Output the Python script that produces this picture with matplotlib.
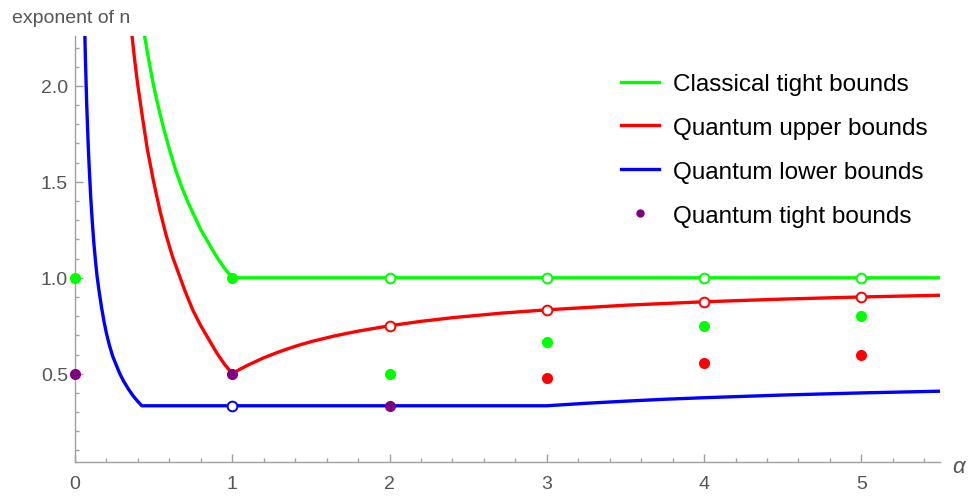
import matplotlib
matplotlib.use("Agg")
import matplotlib.pyplot as plt
from matplotlib.lines import Line2D
from matplotlib.ticker import MultipleLocator

plt.rcParams['font.family'] = ['Liberation Sans', 'DejaVu Sans']

# classical tight bounds (green curve)
green_a = [0.42, 0.44, 0.47, 0.50, 0.53, 0.56, 0.60, 0.64, 0.68, 0.72, 0.76, 0.80,
           0.85, 0.90, 0.95, 1.00, 5.50]
green_y = [2.38, 2.27, 2.13, 2.00, 1.89, 1.79, 1.67, 1.56, 1.47, 1.39, 1.32, 1.25,
           1.18, 1.11, 1.05, 1.00, 1.00]

# quantum upper bounds (red curve)
red_a = [0.34, 0.36, 0.38, 0.40, 0.43, 0.46, 0.50, 0.54, 0.58, 0.62, 0.66, 0.70,
         0.75, 0.80, 0.85, 0.90, 0.95, 1.00,
         1.05, 1.10, 1.20, 1.30, 1.40, 1.50, 1.65, 1.80, 2.00, 2.20, 2.40, 2.70,
         3.00, 3.50, 4.00, 4.50, 5.00, 5.50]
red_y = [2.44, 2.28, 2.13, 2.00, 1.83, 1.67, 1.50, 1.35, 1.22, 1.11, 1.02, 0.93,
         0.83, 0.75, 0.68, 0.61, 0.55, 0.50,
         0.524, 0.545, 0.583, 0.615, 0.643, 0.667, 0.697, 0.722, 0.75, 0.773, 0.792, 0.815,
         0.833, 0.857, 0.875, 0.889, 0.90, 0.909]

# quantum lower bounds (blue curve)
blue_a = [0.060, 0.065, 0.070, 0.075, 0.080, 0.085, 0.090, 0.100, 0.110, 0.120, 0.130,
          0.140, 0.155, 0.170, 0.185, 0.200, 0.220, 0.240, 0.260, 0.285, 0.310, 0.340,
          0.370, 0.400, 0.425, 3.00, 3.25, 3.50, 3.75, 4.00, 4.50, 5.00, 5.50]
blue_y = [2.37, 2.18, 2.03, 1.89, 1.78, 1.67, 1.58, 1.42, 1.29, 1.18, 1.09,
          1.01, 0.92, 0.84, 0.77, 0.71, 0.645, 0.59, 0.55, 0.50, 0.46, 0.42,
          0.384, 0.355, 0.333, 0.333, 0.346, 0.357, 0.367, 0.375, 0.389, 0.40, 0.409]

# filled points
green_pt_a = [0, 1, 2, 3, 4, 5]
green_pt_y = [1.0, 1.0, 0.5, 0.667, 0.75, 0.8]
red_pt_a = [3, 4, 5]
red_pt_y = [0.48, 0.555, 0.6]
purple_pt_a = [0, 1, 2]
purple_pt_y = [0.5, 0.5, 0.333]

# open points
green_open_a = [2, 3, 4, 5]
green_open_y = [1.0, 1.0, 1.0, 1.0]
red_open_a = [2, 3, 4, 5]
red_open_y = [0.75, 0.833, 0.875, 0.9]
blue_open_a = [1]
blue_open_y = [0.333]

legend_labels = ["Classical tight bounds", "Quantum upper bounds",
                 "Quantum lower bounds", "Quantum tight bounds"]

GREEN = "#00ff00"
RED = "#ff0000"
BLUE = "#0000ff"
PURPLE = "#800080"
AXIS = "#a0a0a0"
TXT = "#555555"

fig = plt.figure(figsize=(9.71, 5.02), dpi=100)
ax = fig.add_axes([75 / 971, 39 / 502, 865 / 971, 426 / 502])

lw = 2.4
ax.plot(green_a, green_y, color=GREEN, lw=lw, zorder=2)
ax.plot(red_a, red_y, color=RED, lw=lw, zorder=2)
ax.plot(blue_a, blue_y, color=BLUE, lw=lw, zorder=2)

ms = 8
ax.plot(green_pt_a, green_pt_y, 'o', color=GREEN, ms=ms, mec='none', clip_on=False, zorder=4)
ax.plot(red_pt_a, red_pt_y, 'o', color=RED, ms=ms, mec='none', clip_on=False, zorder=4)
ax.plot(purple_pt_a, purple_pt_y, 'o', color=PURPLE, ms=ms, mec='none', clip_on=False, zorder=5)

oms = 7
ax.plot(green_open_a, green_open_y, 'o', mfc='white', mec=GREEN, mew=1.4, ms=oms, zorder=4)
ax.plot(red_open_a, red_open_y, 'o', mfc='white', mec=RED, mew=1.4, ms=oms, zorder=4)
ax.plot(blue_open_a, blue_open_y, 'o', mfc='white', mec=BLUE, mew=1.4, ms=oms, zorder=4)

ax.set_xlim(0, 5.5)
ax.set_ylim(0.04, 2.26)

for s in ['top', 'right']:
    ax.spines[s].set_visible(False)
for s in ['left', 'bottom']:
    ax.spines[s].set_color(AXIS)
    ax.spines[s].set_linewidth(1.0)

ax.xaxis.set_major_locator(MultipleLocator(1))
ax.xaxis.set_minor_locator(MultipleLocator(0.2))
ax.yaxis.set_minor_locator(MultipleLocator(0.1))
ax.set_yticks([0.5, 1.0, 1.5, 2.0])
ax.set_yticklabels(["0.5", "1.0", "1.5", "2.0"])
ax.tick_params(which='both', direction='in', color=AXIS, width=1.0, labelcolor=TXT, labelsize=14)
ax.tick_params(which='major', length=5.5)
ax.tick_params(which='minor', length=3.2)
ax.tick_params(axis='x', pad=9.5)
ax.tick_params(axis='y', pad=5)

fig.text(12 / 971, 1 - 23 / 502, "exponent of n", color=TXT, fontsize=14, va='baseline')
fig.text(952 / 971, 1 - 473 / 502, "α", color=TXT, fontsize=16, fontstyle='italic', va='baseline')

handles = [Line2D([], [], color=GREEN, lw=lw),
           Line2D([], [], color=RED, lw=lw),
           Line2D([], [], color=BLUE, lw=lw),
           Line2D([], [], ls='none', marker='o', color=PURPLE, ms=5)]
fig.legend(handles, legend_labels, loc='upper left', bbox_to_anchor=(621 / 971, 1 - 74 / 502),
           frameon=False, fontsize=17.5, handlelength=1.55, handletextpad=0.6,
           labelspacing=0.9, borderpad=0, borderaxespad=0)

fig.savefig("out.png", dpi=100)
